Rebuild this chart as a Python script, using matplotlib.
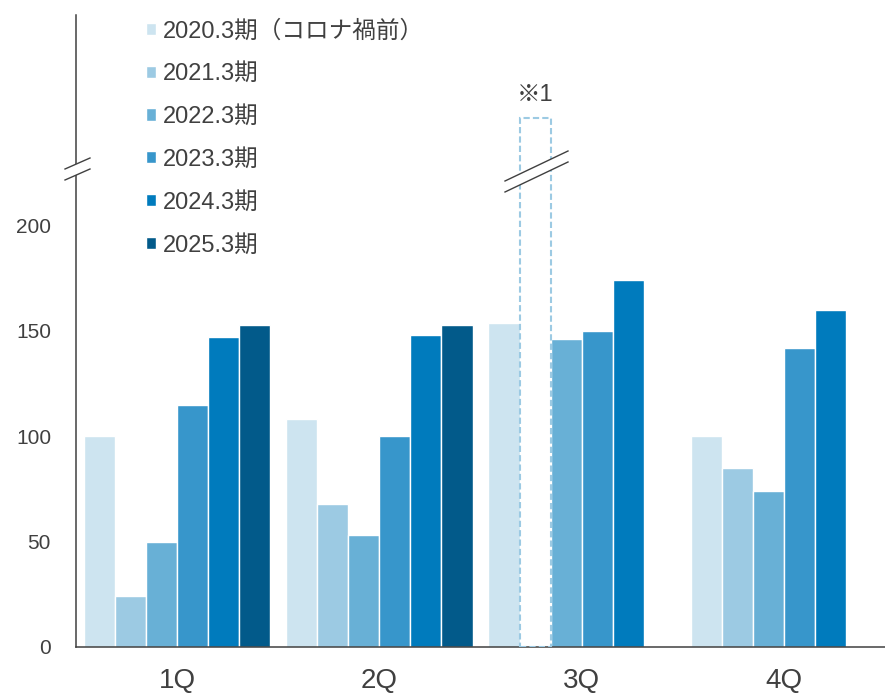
import matplotlib
matplotlib.use("Agg")
import matplotlib.pyplot as plt
from matplotlib.patches import Polygon
import numpy as np

plt.rcParams['font.family'] = ['Liberation Sans', 'Noto Sans CJK JP', 'DejaVu Sans']

quarters = ["1Q", "2Q", "3Q", "4Q"]
periods = ["2020.3期（コロナ禍前）", "2021.3期", "2022.3期", "2023.3期", "2024.3期", "2025.3期"]
colors = ["#cde4f0", "#9ccae3", "#68b0d6", "#3796cb", "#007bbd", "#025a8a"]

# index per quarter; None = no bar drawn
values = [
    [100, 108, 154, 100],   # 2020.3
    [24, 68, None, 85],     # 2021.3 (3Q shown separately, off scale)
    [50, 53, 146, 74],      # 2022.3
    [115, 100, 150, 142],   # 2023.3
    [147, 148, 174, 160],   # 2024.3
    [153, 153, None, None], # 2025.3
]
q3_2021_height = 251  # drawn above the axis break, marked ※1

text_c = "#404040"
W, H = 885, 694
fig = plt.figure(figsize=(W / 100, H / 100), dpi=100)
ax_l, ax_b, ax_r, ax_t = 76, 647, 885, 15
ax = fig.add_axes([ax_l / W, 1 - ax_b / H, (ax_r - ax_l) / W, (ax_b - ax_t) / H])

x = np.arange(len(quarters))
w = 0.1535
for i, (name, col, vals) in enumerate(zip(periods, colors, values)):
    xs = [xi + (i - 2.5) * w for xi, v in zip(x, vals) if v is not None]
    hs = [v for v in vals if v is not None]
    ax.bar(xs, hs, width=w, color=col, edgecolor="white", linewidth=1.0,
           label=name, zorder=2)

# 3Q 2021.3: dashed outline, value beyond the break
xq = 2 + (1 - 2.5) * w
ax.bar([xq], [q3_2021_height], width=w, fill=False, edgecolor="#9ccae3",
       linewidth=1.5, linestyle=(0, (3, 1.5)), zorder=3)
ax.text(xq, q3_2021_height + 6, "※1", ha="center", va="bottom",
        fontsize=17, color=text_c)

ax.set_xlim(-0.5, 3.5)
ax.set_ylim(0, 300)
ax.set_yticks([0, 50, 100, 150, 200])
ax.set_xticks(x)
ax.set_xticklabels(quarters, fontsize=20, color=text_c)
ax.tick_params(axis="y", length=0, pad=18, labelsize=15, labelcolor=text_c)
ax.tick_params(axis="x", length=0, pad=15)
for s in ["top", "right"]:
    ax.spines[s].set_visible(False)
for s in ["left", "bottom"]:
    ax.spines[s].set_color(text_c)
    ax.spines[s].set_linewidth(1.1)


def px(xp, yp):
    # pixel position -> axes fraction
    return ((xp - ax_l) / (ax_r - ax_l), (ax_b - yp) / (ax_b - ax_t))


def brk(x0, x1, y0a, y1a, gap):
    # white band between two parallel slanted lines
    pts = [px(x0, y0a), px(x1, y1a), px(x1, y1a + gap), px(x0, y0a + gap)]
    ax.add_patch(Polygon(pts, closed=True, facecolor="white", edgecolor="none",
                         transform=ax.transAxes, clip_on=False, zorder=5))
    for d in (0, gap):
        a, b = px(x0, y0a + d), px(x1, y1a + d)
        ax.plot([a[0], b[0]], [a[1], b[1]], color=text_c, lw=1.0,
                transform=ax.transAxes, clip_on=False, zorder=6)


brk(65, 90, 169, 158, 11)
brk(505, 568, 181, 151, 11)

leg = ax.legend(loc="upper left", bbox_to_anchor=(146 / W, 1 - 20 / H),
                bbox_transform=fig.transFigure, frameon=False, fontsize=17,
                handlelength=0.42, handleheight=0.42, handletextpad=0.28,
                labelspacing=0.88, borderpad=0, borderaxespad=0)
for t in leg.get_texts():
    t.set_color(text_c)

fig.savefig("out.png", dpi=100)
